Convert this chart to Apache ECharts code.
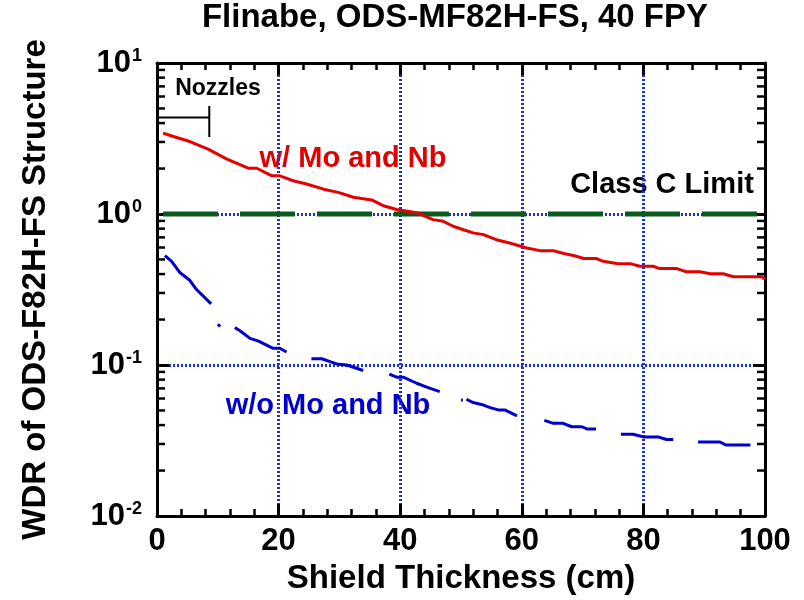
<!DOCTYPE html>
<html>
<head>
<meta charset="utf-8">
<script src="https://cdn.jsdelivr.net/npm/echarts@6/dist/echarts.min.js"></script>
<style>
  html, body { margin: 0; padding: 0; background: #fff; }
  #chart { width: 804px; height: 600px; }
</style>
</head>
<body>
<div id="chart"></div>
<script>
const FONT = '"Liberation Sans", Arial, Helvetica, sans-serif';

// w/ Mo and Nb
const redX = [1, 2.7, 5.4, 8.4, 11.5, 15, 16.4, 18.9, 20.2, 22.4, 24.6, 27.4, 29.8, 32.3, 35.3, 37.2, 39.4, 42.7,
  45.4, 47.1, 48.7, 50.4, 52, 53.7, 55.8, 58, 60.8, 63, 65.2, 66.9, 68.5, 70.2, 72.3, 73.4, 75.6, 77.8, 79.4,
  81.6, 82.7, 85.5, 87.1, 89.3, 91, 93.1, 94.8, 99.5, 100];
const redY = [3.43, 3.26, 3.02, 2.69, 2.31, 2.01, 2.01, 1.79, 1.79, 1.66, 1.58, 1.46, 1.39, 1.29, 1.24, 1.135, 1.07, 1.02,
  0.918, 0.894, 0.83, 0.787, 0.75, 0.73, 0.676, 0.643, 0.596, 0.572, 0.572, 0.547, 0.531, 0.507, 0.507, 0.486, 0.47, 0.469, 0.451,
  0.451, 0.435, 0.435, 0.414, 0.414, 0.402, 0.402, 0.384, 0.384, 0.37];

// w/o Mo and Nb  (null = break in the plotted curve)
const blueX = [1.3, 2.4, 3.8, 5.4, 6.5, 8.9, 9.5,
  10.0, 10.4, 11.5,
  12.8, 13.7, 15.3, 16.7, 19.1, 20.2, 21.3, 23,
  25.4, 27.1, 28.7, 29.8, 31.2, 33.9, 36,
  38.2, 39.4, 40.5, 42.7, 44.6, 46.5, 48,
  50.0, 50.3, 50.6,
  50.9, 52, 53.7, 54.8, 56.1, 57.2, 59.2, 61,
  63.7, 65.2, 66.8, 68.2, 69.9, 70.7, 72.2, 74,
  76.3, 78.3, 80, 82.4, 83.8, 84.9, 87,
  89, 92.6, 93.6, 97.6];
const blueY = [0.53, 0.486, 0.408, 0.364, 0.316, 0.254, null,
  0.186, 0.18, null,
  0.177, 0.168, 0.15, 0.144, 0.129, 0.129, 0.122, null,
  0.110, 0.110, 0.1045, 0.101, 0.1, 0.092, null,
  0.087, 0.083, 0.083, 0.0757, 0.0708, 0.0667, null,
  0.0586, 0.0584, null,
  0.0593, 0.0564, 0.0543, 0.0522, 0.0504, 0.0504, 0.046, null,
  0.043, 0.0411, 0.0411, 0.039, 0.039, 0.0377, 0.0377, null,
  0.0348, 0.0348, 0.0334, 0.0334, 0.0321, 0.0321, null,
  0.0309, 0.0309, 0.0295, 0.0295];

// Class C limit
const limitX = [0, 100];
const limitY = [1, 1];

// nozzles marker
const nozzleX = [0, 8.6, 8.6, 8.6];
const nozzleY = [4.35, 4.35, 5.2, 3.24];

// axes
const xTicks = [0, 20, 40, 60, 80, 100];
const yMinorTicks = [];
[0.01, 0.1, 1].forEach(function (d) {
  for (let k = 2; k <= 9; k++) yMinorTicks.push(+(k * d).toPrecision(3));
});

const pairs = (xs, ys) => xs.map((x, i) => [x, ys[i]]);

const chart = echarts.init(document.getElementById('chart'));

const axisLine = { show: true, onZero: false, lineStyle: { color: '#000', width: 3 } };
const majorTick = { show: true, inside: true, length: 12, lineStyle: { color: '#000', width: 3 } };
const gridLine = { show: true, lineStyle: { color: '#1a2ee6', width: 3, type: [2, 2] } };

chart.setOption({
  animation: false,
  backgroundColor: '#fff',
  grid: { left: 157, right: 39, top: 63, bottom: 83 },
  xAxis: [{
    type: 'value', min: 0, max: 100, interval: 20,
    axisLine: axisLine,
    axisTick: majorTick,
    minorTick: { show: true, splitNumber: 5, length: 7, lineStyle: { color: '#000', width: 2.5 } },
    splitLine: gridLine,
    axisLabel: { color: '#000', fontFamily: FONT, fontWeight: 'bold', fontSize: 31, margin: 10 },
    name: 'Shield Thickness (cm)', nameLocation: 'middle', nameGap: 46,
    nameTextStyle: { color: '#000', fontFamily: FONT, fontWeight: 'bold', fontSize: 33 }
  }, {
    type: 'value', min: 0, max: 100, interval: 20, position: 'top',
    axisLine: axisLine,
    axisTick: majorTick,
    minorTick: { show: true, splitNumber: 5, length: 7, lineStyle: { color: '#000', width: 2.5 } },
    splitLine: { show: false },
    axisLabel: { show: false }
  }],
  yAxis: [{
    type: 'log', logBase: 10, min: 0.01, max: 10,
    axisLine: axisLine,
    axisTick: majorTick,
    splitLine: gridLine,
    axisLabel: {
      margin: 15,
      formatter: function (v) {
        return '{b|10}{s|' + Math.round(Math.log10(v)) + '}';
      },
      rich: {
        b: { color: '#000', fontFamily: FONT, fontWeight: 'bold', fontSize: 31 },
        s: { color: '#000', fontFamily: FONT, fontWeight: 'bold', fontSize: 18, verticalAlign: 'top', padding: [0, 0, 0, 1] }
      }
    },
    name: 'WDR of ODS-F82H-FS Structure', nameLocation: 'middle', nameGap: 105,
    nameTextStyle: { color: '#000', fontFamily: FONT, fontWeight: 'bold', fontSize: 33 }
  }, {
    type: 'log', logBase: 10, min: 0.01, max: 10, position: 'right',
    axisLine: axisLine,
    axisTick: majorTick,
    splitLine: { show: false },
    axisLabel: { show: false }
  }],
  series: [{
    name: 'minor ticks',
    type: 'custom',
    silent: true,
    clip: false,
    z: 5,
    data: yMinorTicks.map(v => [0, v]),
    renderItem: function (params, api) {
      const v = api.value(1);
      const l = api.coord([0, v]);
      const r = api.coord([100, v]);
      return {
        type: 'group',
        children: [
          { type: 'line', shape: { x1: l[0], y1: l[1], x2: l[0] + 8, y2: l[1] }, style: { stroke: '#000', lineWidth: 2.5 } },
          { type: 'line', shape: { x1: r[0], y1: r[1], x2: r[0] - 8, y2: r[1] }, style: { stroke: '#000', lineWidth: 2.5 } }
        ]
      };
    }
  }, {
    name: 'Class C Limit',
    type: 'line',
    data: pairs(limitX, limitY),
    showSymbol: false,
    lineStyle: { color: '#0b5a1d', width: 5, type: [55, 22], dashOffset: 71 },
    z: 3
  }, {
    name: 'w/ Mo and Nb',
    type: 'line',
    data: pairs(redX, redY),
    showSymbol: false,
    lineStyle: { color: '#e60000', width: 3 },
    z: 4
  }, {
    name: 'w/o Mo and Nb',
    type: 'line',
    data: pairs(blueX, blueY),
    showSymbol: false,
    connectNulls: false,
    lineStyle: { color: '#0000cc', width: 3 },
    z: 4
  }, {
    name: 'Nozzles',
    type: 'line',
    data: pairs(nozzleX, nozzleY),
    showSymbol: false,
    lineStyle: { color: '#000', width: 2 },
    z: 4
  }],
  graphic: [
    { type: 'text', style: { text: 'Flinabe, ODS-MF82H-FS, 40 FPY', x: 455, y: 18, align: 'center', verticalAlign: 'middle',
      font: 'bold 33px ' + FONT, fill: '#000' } },
    { type: 'text', style: { text: 'Nozzles', x: 218, y: 89, align: 'center', verticalAlign: 'middle',
      font: 'bold 23px ' + FONT, fill: '#000' } },
    { type: 'text', style: { text: 'w/ Mo and Nb', x: 353, y: 159, align: 'center', verticalAlign: 'middle',
      font: 'bold 29px ' + FONT, fill: '#e00000' } },
    { type: 'text', style: { text: 'Class C Limit', x: 662, y: 185, align: 'center', verticalAlign: 'middle',
      font: 'bold 29px ' + FONT, fill: '#000' } },
    { type: 'text', style: { text: 'w/o Mo and Nb', x: 328, y: 406, align: 'center', verticalAlign: 'middle',
      font: 'bold 29px ' + FONT, fill: '#0000cc' } }
  ]
});
</script>
</body>
</html>
